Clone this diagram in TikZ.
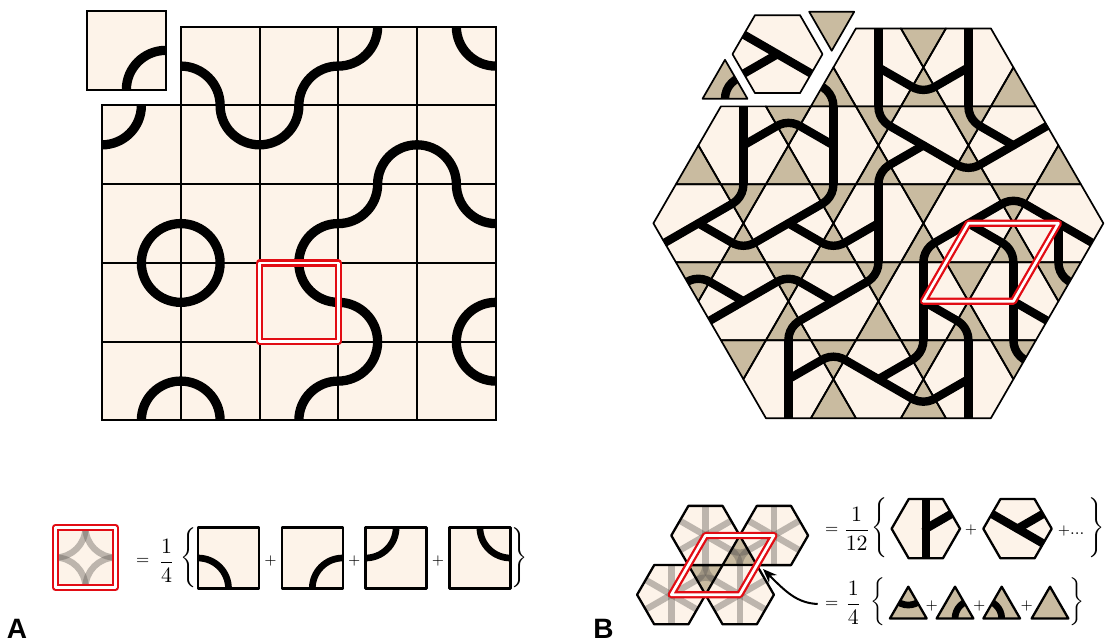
\documentclass[tikz,border=0pt]{standalone}
\usepackage{fontspec}
\newfontfamily\panelfont{Liberation Sans}
\usetikzlibrary{arrows.meta}
\definecolor{cream}{RGB}{253,243,233}
\definecolor{tanc}{RGB}{201,187,160}
\definecolor{redc}{RGB}{226,12,20}
\definecolor{ghostc}{RGB}{95,90,85}
\tikzset{
  gridline/.style={line width=1pt},
  truchet/.style={line width=4.65pt},
  minitile/.style={line width=3.35pt},
  kline/.style={line width=0.85pt,line join=round},
  kpath/.style={line width=4.2pt},
  tileedge/.style={line width=1.15pt,line join=round},
  redframe/.style={draw=redc,line width=3.65pt,line join=round},
  whiteframe/.style={draw=white,line width=1.35pt,line join=round},
  ghost/.style={draw=ghostc,opacity=0.4,line width=3.2pt},
  halo/.style={draw=white,line width=3pt,line join=round},
  lbl/.style={font=\panelfont\bfseries\fontsize{14}{14}\selectfont,inner sep=0pt},
  mth/.style={inner sep=0pt},
  frac/.style={inner sep=0pt,font=\fontsize{11}{13}\selectfont},
}
% #4 = command such as \fill[cream]
\newcommand\HexDo[4]{#4 ({#1-#3},#2) -- ({#1-0.5*#3},{#2-0.866*#3}) -- ({#1+0.5*#3},{#2-0.866*#3}) -- ({#1+#3},#2) -- ({#1+0.5*#3},{#2+0.866*#3}) -- ({#1-0.5*#3},{#2+0.866*#3}) -- cycle;}
% apex (#1,#2), side #3, #4=+1 base below, -1 base above
\newcommand\TriDo[5]{#5 (#1,#2) -- ({#1-0.5*#3},{#2+0.866*#3*(#4)}) -- ({#1+0.5*#3},{#2+0.866*#3*(#4)}) -- cycle;}

\def\cellsA{0/1/0/1,0/2/1/1,0/3/0/0,0/4/1/0,
1/0/0/0,1/1/1/0,1/2/0/0,1/3/1/1,1/4/0/1,
2/0/1/1,2/1/0/1,2/2/1/1,2/3/0/0,2/4/1/0,
3/0/1/0,3/1/0/0,3/2/1/0,3/3/0/1,3/4/1/1,
4/0/1/1,4/1/0/1,4/2/1/1,4/3/0/0,4/4/1/0}

\def\hexlist{0/-2/90/270/-30,2/-2/90/270/210,
-3/-1/90/270/30,-1/-1/90/270/150,1/-1/150/-30/210,3/-1/150/30/210,
-4/0/30/-30/210,-2/0/30/-30/210,0/0/90/270/210,2/0/30/-30/210,4/0/270/-30/150,
-3/1/30/150/210,-1/1/30/150/210,1/1/90/270/-30,3/1/90/270/-30,
-2/2/90/270/30,0/2/30/-30/150,2/2/90/270/210}

\def\trilist{-1/-2/1,1/-2/-1,1/-2/1,3/-2/1,
-4/-1/1,-2/-1/-1,-2/-1/1,0/-1/-1,0/-1/1,2/-1/-1,2/-1/1,4/-1/1,
-3/0/-1,-3/0/1,-1/0/-1,-1/0/1,1/0/-1,1/0/1,3/0/-1,3/0/1,
-4/1/-1,-2/1/-1,-2/1/1,0/1/-1,0/1/1,2/1/-1,2/1/1,4/1/-1,
-3/2/-1,-1/2/-1,-1/2/1,1/2/-1,1/2/1,3/2/-1}

\def\arclist{-1/-2/1/-1/1,1/-2/1/0/0,
-2/-1/-1/0/0,0/-1/-1/1/-1,0/-1/1/1/1,2/-1/-1/1/-1,2/-1/1/0/0,
-3/0/-1/-1/-1,-3/0/1/0/0,-1/0/-1/-1/-1,-1/0/1/0/0,1/0/1/1/1,3/0/-1/0/0,3/0/1/-1/1,
-4/1/-1/0/0,-2/1/-1/0/0,-2/1/1/1/1,0/1/-1/-1/-1,2/1/1/-1/1,4/1/-1/1/-1,
-1/2/-1/0/0,1/2/-1/-1/-1,1/2/1/0/0,3/2/-1/1/-1}

\begin{document}
\begin{tikzpicture}[x=0.5pt,y=-0.5pt]
\useasboundingbox (0,0) rectangle (1108,643);

% ================= Panel A =================
\foreach \ar/\ac/\fx/\fy in \cellsA {
  \pgfmathsetmacro\X{102+\ac*78.75}
  \pgfmathsetmacro\Y{26.7+\ar*78.75}
  \fill[cream] (\X,\Y) rectangle ++(78.75,78.75);
  \begin{scope}
    \clip (\X,\Y) rectangle ++(78.75,78.75);
    \draw[truchet] ({\X+\fx*78.75},{\Y+\fy*78.75}) circle[radius=19.69pt];
  \end{scope}
}
\foreach \ar/\ac/\fx/\fy in \cellsA {
  \pgfmathsetmacro\X{102+\ac*78.75}
  \pgfmathsetmacro\Y{26.7+\ar*78.75}
  \draw[gridline] (\X,\Y) rectangle ++(78.75,78.75);
}
% displaced tile
\fill[cream] (87,11) rectangle ++(78.75,78.75);
\begin{scope}
  \clip (87,11) rectangle ++(78.75,78.75);
  \draw[truchet] (165.75,89.75) circle[radius=19.69pt];
\end{scope}
\draw[gridline] (87,11) rectangle ++(78.75,78.75);
% red frame
\draw[redframe] (259.5,262.95) rectangle ++(78.75,78.75);
\draw[whiteframe] (259.5,262.95) rectangle ++(78.75,78.75);

% legend A
\fill[cream] (55.5,527.5) rectangle ++(60,60);
\begin{scope}
  \clip (55.5,527.5) rectangle ++(60,60);
  \foreach \fx/\fy in {0/0,1/0,0/1,1/1}
    \draw[ghost] ({55.5+\fx*60},{527.5+\fy*60}) circle[radius=15pt];
\end{scope}
\draw[redframe] (55.5,527.5) rectangle ++(60,60);
\draw[whiteframe] (55.5,527.5) rectangle ++(60,60);

\foreach \i/\fx/\fy in {0/0/1,1/1/1,2/0/0,3/1/0}{
  \pgfmathsetmacro\X{198+\i*83.8}
  \fill[cream] (\X,527.5) rectangle ++(61,61);
  \begin{scope}
    \clip (\X,527.5) rectangle ++(61,61);
    \draw[minitile] ({\X+\fx*61},{527.5+\fy*61}) circle[radius=15.25pt];
  \end{scope}
  \draw[tileedge] (\X,527.5) rectangle ++(61,61);
}
\node[mth] (eqA) at (142.7,561) {\footnotesize$=$};
\node[frac] (fracA) at (166.7,561) {$\displaystyle\frac{1}{4}$};
\node[mth] (lbA) at (188.5,558) {$\Bigg\{$};
\node[mth] (rbA) at (520,558) {$\Bigg\}$};
\node[mth] (pA1) at (270.4,561) {\scriptsize$+$};
\node[mth] (pA2) at (354.2,561) {\scriptsize$+$};
\node[mth] (pA3) at (438,561) {\scriptsize$+$};
\node[lbl] (labA) at (17,629) {A};

% ================= Panel B =================
\foreach \hm/\hr/\ka/\kb/\kc in \hexlist {
  \pgfmathsetmacro\hx{878.4+45*(\hm)}
  \pgfmathsetmacro\hy{223.3+77.94*(\hr)}
  \HexDo{\hx}{\hy}{45}{\fill[cream]}
}
\foreach \qm/\qr/\qt in \trilist {
  \pgfmathsetmacro\hx{878.4+45*(\qm)}
  \pgfmathsetmacro\hy{223.3+77.94*(\qr)}
  \TriDo{\hx}{\hy}{45}{\qt}{\fill[tanc]}
}
\foreach \qm/\qr/\qt/\fx/\fy in \arclist {
  \pgfmathsetmacro\hx{878.4+45*(\qm)}
  \pgfmathsetmacro\hy{223.3+77.94*(\qr)}
  \begin{scope}
    \TriDo{\hx}{\hy}{45}{\qt}{\clip}
    \draw[kpath] ({\hx+22.5*(\fx)},{\hy+38.97*(\fy)}) circle[radius=11.25pt];
  \end{scope}
}
\foreach \hm/\hr/\ka/\kb/\kc in \hexlist {
  \pgfmathsetmacro\hx{878.4+45*(\hm)}
  \pgfmathsetmacro\hy{223.3+77.94*(\hr)}
  \foreach \ang in {\ka,\kb,\kc}
    \draw[kpath] (\hx,\hy) -- ++({38.97*cos(\ang)},{-38.97*sin(\ang)});
  \fill (\hx,\hy) circle[radius=2.1pt];
}
\foreach \hm/\hr/\ka/\kb/\kc in \hexlist {
  \pgfmathsetmacro\hx{878.4+45*(\hm)}
  \pgfmathsetmacro\hy{223.3+77.94*(\hr)}
  \HexDo{\hx}{\hy}{45}{\draw[kline]}
}
\foreach \qm/\qr/\qt in \trilist {
  \pgfmathsetmacro\hx{878.4+45*(\qm)}
  \pgfmathsetmacro\hy{223.3+77.94*(\qr)}
  \TriDo{\hx}{\hy}{45}{\qt}{\draw[kline]}
}

% displaced pieces
\begin{scope}[shift={(-10.9,-13.3)}]
  \HexDo{788.4}{67.42}{45}{\draw[halo]}
  \HexDo{788.4}{67.42}{45}{\fill[cream]}
  \foreach \ang in {150,-30,210}
    \draw[kpath] (788.4,67.42) -- ++({38.97*cos(\ang)},{-38.97*sin(\ang)});
  \fill (788.4,67.42) circle[radius=2.1pt];
  \HexDo{788.4}{67.42}{45}{\draw[kline]}
\end{scope}
\begin{scope}[shift={(-1.7,-16.7)}]
  \TriDo{833.4}{67.42}{45}{-1}{\draw[halo]}
  \TriDo{833.4}{67.42}{45}{-1}{\fill[tanc]}
  \TriDo{833.4}{67.42}{45}{-1}{\draw[kline]}
\end{scope}
\begin{scope}[shift={(-18.4,-7.6)}]
  \TriDo{743.4}{67.42}{45}{1}{\draw[halo]}
  \TriDo{743.4}{67.42}{45}{1}{\fill[tanc]}
  \begin{scope}
    \TriDo{743.4}{67.42}{45}{1}{\clip}
    \draw[kpath] (765.9,106.39) circle[radius=11.25pt];
  \end{scope}
  \TriDo{743.4}{67.42}{45}{1}{\draw[kline]}
\end{scope}

% red rhombus (unit cell)
\draw[redframe] (968.4,223.3) -- (1058.4,223.3) -- (1013.4,301.24) -- (923.4,301.24) -- cycle;
\draw[whiteframe] (968.4,223.3) -- (1058.4,223.3) -- (1013.4,301.24) -- (923.4,301.24) -- cycle;

% legend B: four hexagons with averaged spokes
\foreach \cx/\cy in {705.5/535.5,773.9/535.5,671.3/594.7,739.7/594.7}{
  \HexDo{\cx}{\cy}{34.2}{\fill[cream]}
  \foreach \ang in {30,90,150,210,270,330}
    \draw[ghost] (\cx,\cy) -- ++({29.62*cos(\ang)},{-29.62*sin(\ang)});
}
\foreach \cx/\cy/\qt in {739.7/535.5/1,705.5/594.7/-1}{
  \TriDo{\cx}{\cy}{34.2}{\qt}{\fill[tanc]}
  \begin{scope}
    \TriDo{\cx}{\cy}{34.2}{\qt}{\clip}
    \draw[ghost] (\cx,\cy) circle[radius=8.55pt];
    \draw[ghost] ({\cx-17.1},{\cy+29.62*(\qt)}) circle[radius=8.55pt];
    \draw[ghost] ({\cx+17.1},{\cy+29.62*(\qt)}) circle[radius=8.55pt];
  \end{scope}
}
\foreach \cx/\cy in {705.5/535.5,773.9/535.5,671.3/594.7,739.7/594.7}{
  \HexDo{\cx}{\cy}{34.2}{\draw[tileedge]}
}
\draw[redframe] (705.5,535.5) -- (773.9,535.5) -- (739.7,594.7) -- (671.3,594.7) -- cycle;
\draw[whiteframe] (705.5,535.5) -- (773.9,535.5) -- (739.7,594.7) -- (671.3,594.7) -- cycle;

% formula: hexagon tiles
\HexDo{925.8}{528.7}{34.2}{\fill[cream]}
\foreach \ang in {90,270,30}
  \draw[kpath] (925.8,528.7) -- ++({29.62*cos(\ang)},{-29.62*sin(\ang)});
\fill (925.8,528.7) circle[radius=2.1pt];
\HexDo{925.8}{528.7}{34.2}{\draw[tileedge]}
\HexDo{1017.5}{528.7}{34.2}{\fill[cream]}
\foreach \ang in {150,-30,30}
  \draw[kpath] (1017.5,528.7) -- ++({29.62*cos(\ang)},{-29.62*sin(\ang)});
\fill (1017.5,528.7) circle[radius=2.1pt];
\HexDo{1017.5}{528.7}{34.2}{\draw[tileedge]}

% formula: triangle tiles
\foreach \tx/\fx/\fy/\hasarc in {908.3/0/0/1,955/1/1/1,1001.7/-1/1/1,1050/0/0/0}{
  \TriDo{\tx}{586.7}{36.7}{1}{\fill[tanc]}
  \ifnum\hasarc=1
  \begin{scope}
    \TriDo{\tx}{586.7}{36.7}{1}{\clip}
    \draw[minitile] ({\tx+18.35*(\fx)},{586.7+31.78*(\fy)}) circle[radius=9.17pt];
  \end{scope}
  \fi
  \TriDo{\tx}{586.7}{36.7}{1}{\draw[tileedge]}
}

\node[mth] (eqB1) at (831.7,530) {\footnotesize$=$};
\node[frac] (fracB1) at (856.7,529) {$\displaystyle\frac{1}{12}$};
\node[mth] (lbB1) at (880,528) {$\Bigg\{$};
\node[mth] (pB1) at (971,530) {\scriptsize$+$};
\node[mth] (pB2) at (1071,531) {\scriptsize$+$\footnotesize...};
\node[mth] (rbB1) at (1096.7,528) {$\Bigg\}$};

\node[mth] (eqB2) at (831.7,604) {\footnotesize$=$};
\node[frac] (fracB2) at (853.3,603) {$\displaystyle\frac{1}{4}$};
\node[mth] (lbB2) at (878.3,602) {$\bigg\{$};
\node[mth] (pB3) at (931.7,606) {\scriptsize$+$};
\node[mth] (pB4) at (979.3,606) {\scriptsize$+$};
\node[mth] (pB5) at (1026.7,606) {\scriptsize$+$};
\node[mth] (rbB2) at (1076.7,602) {$\bigg\}$};

\coordinate (arrtip) at (763,569);
\draw[line width=1pt,-{Stealth[length=7pt,width=5.5pt]}] ([xshift=-3.5pt]eqB2.west) .. controls (797,603) and (786,592) .. (arrtip);

\node[lbl] (labB) at (603.5,629) {B};
\end{tikzpicture}
\end{document}
